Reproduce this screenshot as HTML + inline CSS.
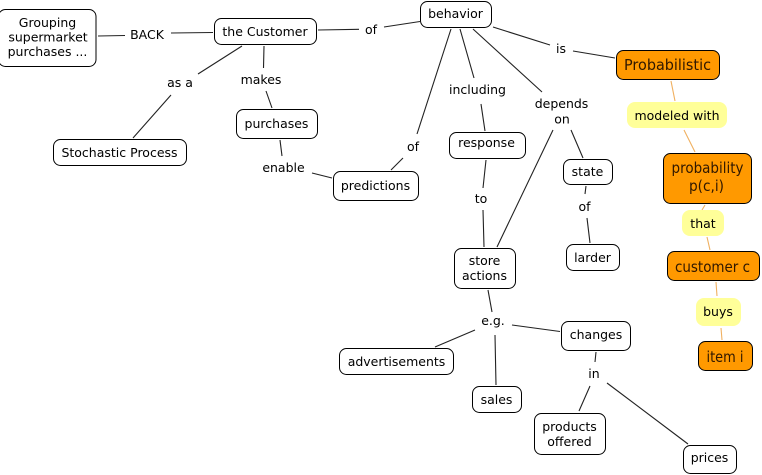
<!DOCTYPE html>
<html><head><meta charset="utf-8"><style>
html,body{margin:0;padding:0;background:#fff;width:762px;height:475px;overflow:hidden}
svg{display:block}
text{font-family:"DejaVu Sans",sans-serif;font-size:12.5px;fill:#000;text-anchor:middle}
text.o{font-size:15px;fill:#301800}
.n{fill:#fff;stroke:#000;stroke-width:1}
.a{fill:#ff9900;stroke:#000;stroke-width:1}
.y{fill:#ffff99;stroke:none}
.l{stroke:#222;stroke-width:1.1;fill:none}
.m{stroke:#f0b060;stroke-width:1.1;fill:none}
</style></head><body>
<svg width="762" height="475" viewBox="0 0 762 475" xmlns="http://www.w3.org/2000/svg">
<g class="l">
<path d="M98 36L125 35.500M171 33L213 32.500M318 30L359 29.300M384 27L420 21.500"/>
<path d="M242 46L198 74M171 95L133 138M264 46L263.500 68M266 91L272 108M280 140L282 156M312 173L332 178"/>
<path d="M451 29L417 134M403 158L391 170M460 29L474 78M481 104L485 131M473 29L542 92"/>
<path d="M493 27L550 45M573 51L615 58M486 160L483 188M483 210L484 247M553 130L497 247M571 130L583 158M586 186L585 194M587 218L590 243"/>
<path d="M488 290L492 312M475 330L435 347M495 335L496 385M512 325L560 331.500M596 352L595 362M590 386L579 411M607 383L688 444"/>
</g>
<g class="m">
<path d="M671 81L675 101M684 130L695 152M705 205L702 210M707 237L710 250M716 282L717 296M721 328L722 340"/>
</g>
<rect class="n" x="-1.500" y="9.500" width="97.500" height="57" rx="7"/>
<rect class="n" x="214.500" y="18.500" width="102" height="26" rx="7"/>
<rect class="n" x="53.500" y="139.500" width="133" height="26" rx="7"/>
<rect class="n" x="236.500" y="109.500" width="81" height="29" rx="7"/>
<rect class="n" x="333.500" y="171.500" width="85" height="29" rx="7"/>
<rect class="n" x="420.500" y="1.500" width="71" height="26" rx="7"/>
<rect class="n" x="449.500" y="132.500" width="76" height="26" rx="7"/>
<rect class="n" x="563.500" y="159.500" width="49" height="25" rx="7"/>
<rect class="n" x="454.500" y="248.500" width="61" height="40" rx="7"/>
<rect class="n" x="566.500" y="244.500" width="53" height="26" rx="7"/>
<rect class="n" x="561.500" y="321.500" width="69" height="29" rx="7"/>
<rect class="n" x="339.500" y="348.500" width="114" height="26" rx="7"/>
<rect class="n" x="472.500" y="386.500" width="49" height="26" rx="7"/>
<rect class="n" x="534.500" y="413.500" width="71" height="41" rx="7"/>
<rect class="n" x="683.500" y="445.500" width="53" height="28" rx="7"/>
<rect class="a" x="616.500" y="50.500" width="103" height="29" rx="7"/>
<rect class="a" x="663.500" y="153.500" width="88" height="50" rx="7"/>
<rect class="a" x="667.500" y="251.500" width="92" height="29" rx="7"/>
<rect class="a" x="698.500" y="341.500" width="54" height="29" rx="7"/>
<rect class="y" x="627" y="102" width="100" height="26" rx="8"/>
<rect class="y" x="682" y="210" width="42" height="26" rx="8"/>
<rect class="y" x="696" y="298" width="45" height="28" rx="8"/>
<text x="47.500" y="27">Grouping</text>
<text x="48" y="41.500">supermarket</text>
<text x="47.500" y="56">purchases ...</text>
<text x="147" y="39">BACK</text>
<text x="265" y="36">the Customer</text>
<text x="371" y="34">of</text>
<text x="455.500" y="18">behavior</text>
<text x="561" y="53">is</text>
<text x="180" y="87">as a</text>
<text x="261" y="84">makes</text>
<text x="276.500" y="128">purchases</text>
<text x="119.500" y="157">Stochastic Process</text>
<text x="283.500" y="172">enable</text>
<text x="375.500" y="190">predictions</text>
<text x="413" y="151">of</text>
<text x="477.500" y="94">including</text>
<text x="486.500" y="147">response</text>
<text x="561.500" y="108">depends</text>
<text x="562" y="123.500">on</text>
<text x="587.500" y="176">state</text>
<text x="584.500" y="211">of</text>
<text x="481" y="203">to</text>
<text x="484.500" y="265">store</text>
<text x="484.500" y="280">actions</text>
<text x="592.500" y="262">larder</text>
<text x="493" y="325">e.g.</text>
<text x="596" y="339">changes</text>
<text x="396.500" y="366">advertisements</text>
<text x="496.500" y="404">sales</text>
<text x="594" y="378">in</text>
<text x="569.500" y="431">products</text>
<text x="569.500" y="446">offered</text>
<text x="709.500" y="462">prices</text>
<text x="677" y="120">modeled with</text>
<text x="703" y="228">that</text>
<text x="718" y="316">buys</text>
<text class="o" x="667.500" y="70" textLength="87" lengthAdjust="spacingAndGlyphs">Probabilistic</text>
<text class="o" x="707.500" y="173" textLength="72" lengthAdjust="spacingAndGlyphs">probability</text>
<text class="o" x="706.500" y="191" textLength="35" lengthAdjust="spacingAndGlyphs">p(c,i)</text>
<text class="o" x="712.500" y="272" textLength="75" lengthAdjust="spacingAndGlyphs">customer c</text>
<text class="o" x="725" y="362" textLength="37" lengthAdjust="spacingAndGlyphs">item i</text>
</svg>
</body></html>
